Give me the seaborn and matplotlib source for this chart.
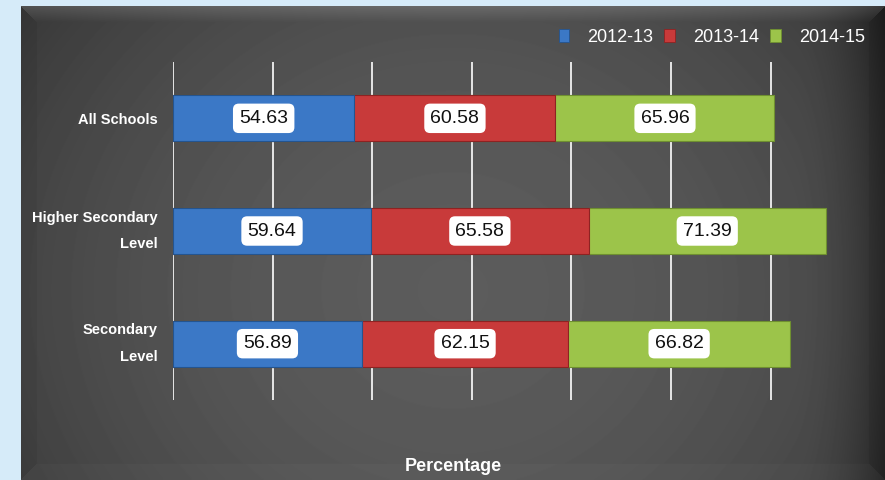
import numpy as np
import pandas as pd
import matplotlib
matplotlib.use("Agg")
import matplotlib.pyplot as plt
import matplotlib.patches as mpatches
import seaborn as sns

# data
categories = ["All Schools", "Higher Secondary\nLevel", "Secondary\nLevel"]
years = ["2012-13", "2013-14", "2014-15"]
v_2012 = [54.63, 59.64, 56.89]
v_2013 = [60.58, 65.58, 62.15]
v_2014 = [65.96, 71.39, 66.82]
colors = ["#3b78c6", "#c83a3a", "#9cc44a"]
edges = ["#24548f", "#8e2222", "#6f9030"]

df = pd.DataFrame({"category": categories, "2012-13": v_2012,
                   "2013-14": v_2013, "2014-15": v_2014})
cum = df[years].cumsum(axis=1)

sns.set_style("dark")
plt.rcParams["font.family"] = ["Liberation Sans", "DejaVu Sans"]

fig = plt.figure(figsize=(8.85, 4.8), dpi=100)
fig.patch.set_facecolor("#d6ebf9")

# dark gradient panel with a bevelled rim
pw, ph = 864, 474
bg = fig.add_axes([21 / 885, 0, pw / 885, ph / 480])
yy, xx = np.mgrid[0:ph, 0:pw].astype(float)
r2 = ((xx / pw - 0.5) / 0.55) ** 2 + ((yy / ph - 0.6) / 0.9) ** 2
shade = 0.36 - 0.11 * r2 - 0.10 * np.clip((xx - pw + 90) / 90, 0, 1) ** 2
bw = 16
d_top, d_bot = yy, ph - 1 - yy
d_left, d_right = xx, pw - 1 - xx
top = (d_top < bw) & (d_top <= d_left) & (d_top <= d_right)
bot = (d_bot < bw) & (d_bot <= d_left) & (d_bot <= d_right)
shade[top] += 0.10 * (1 - d_top[top] / bw)
shade[bot] += 0.015
side = (~top) & (~bot) & ((d_left < bw) | (d_right < bw))
shade[side] -= 0.015
bg.imshow(np.clip(shade, 0, 1), cmap="gray", vmin=0, vmax=1, aspect="auto",
          extent=[0, 1, 0, 1], interpolation="bilinear")
bg.set_axis_off()

ax = fig.add_axes([173 / 885, 80 / 480, 664 / 885, 338 / 480])
ax.set_facecolor("none")

# stacked bars: draw cumulative totals from the outermost segment inwards
for i in reversed(range(len(years))):
    sns.barplot(x=cum[years[i]], y=df["category"], orient="h", ax=ax,
                color=colors[i], width=0.41, edgecolor=edges[i],
                linewidth=0.8, saturation=1, zorder=3)

for i, yr in enumerate(years):
    left = cum[yr] - df[yr]
    for j, val in enumerate(df[yr]):
        ax.text(left[j] + val / 2, j, f"{val:.2f}", ha="center", va="center",
                fontsize=14, color="#111111", zorder=5,
                bbox=dict(boxstyle="round,pad=0.32,rounding_size=0.3",
                          fc="white", ec="none"))

ax.set_xlim(0, 200)
ax.set_ylim(2.5, -0.5)
ax.set_xticks(np.arange(0, 181, 30))
ax.set_xticklabels([])
ax.grid(axis="x", color="white", linewidth=1.2, zorder=1)
ax.grid(axis="y", visible=False)
ax.tick_params(axis="both", length=0, pad=11)
for s in ax.spines.values():
    s.set_visible(False)
ax.set_ylabel("")
ax.set_xlabel("Percentage", color="white", fontsize=13, fontweight="bold")
ax.xaxis.set_label_coords(280 / 664, -58 / 338)
for lab in ax.get_yticklabels():
    lab.set_color("white")
    lab.set_fontweight("bold")
    lab.set_fontsize(10.5)
    lab.set_linespacing(2.15)
    lab.set_ha("right")
    # single-line labels sit on the bar centre by baseline, two-line ones by box
    lab.set_va("center" if "\n" in lab.get_text() else "center_baseline")

handles = [mpatches.Patch(facecolor=c, edgecolor=e, linewidth=0.6)
           for c, e in zip(colors, edges)]
leg = fig.legend(handles, years, loc="center right", ncol=3,
                 bbox_to_anchor=(874 / 885, 1 - 37 / 480), frameon=False,
                 fontsize=13, handlelength=0.6, handleheight=0.75,
                 handletextpad=1.0, columnspacing=0.6, borderpad=0)
for t in leg.get_texts():
    t.set_color("white")

fig.savefig("out.png", dpi=100, facecolor=fig.get_facecolor())
